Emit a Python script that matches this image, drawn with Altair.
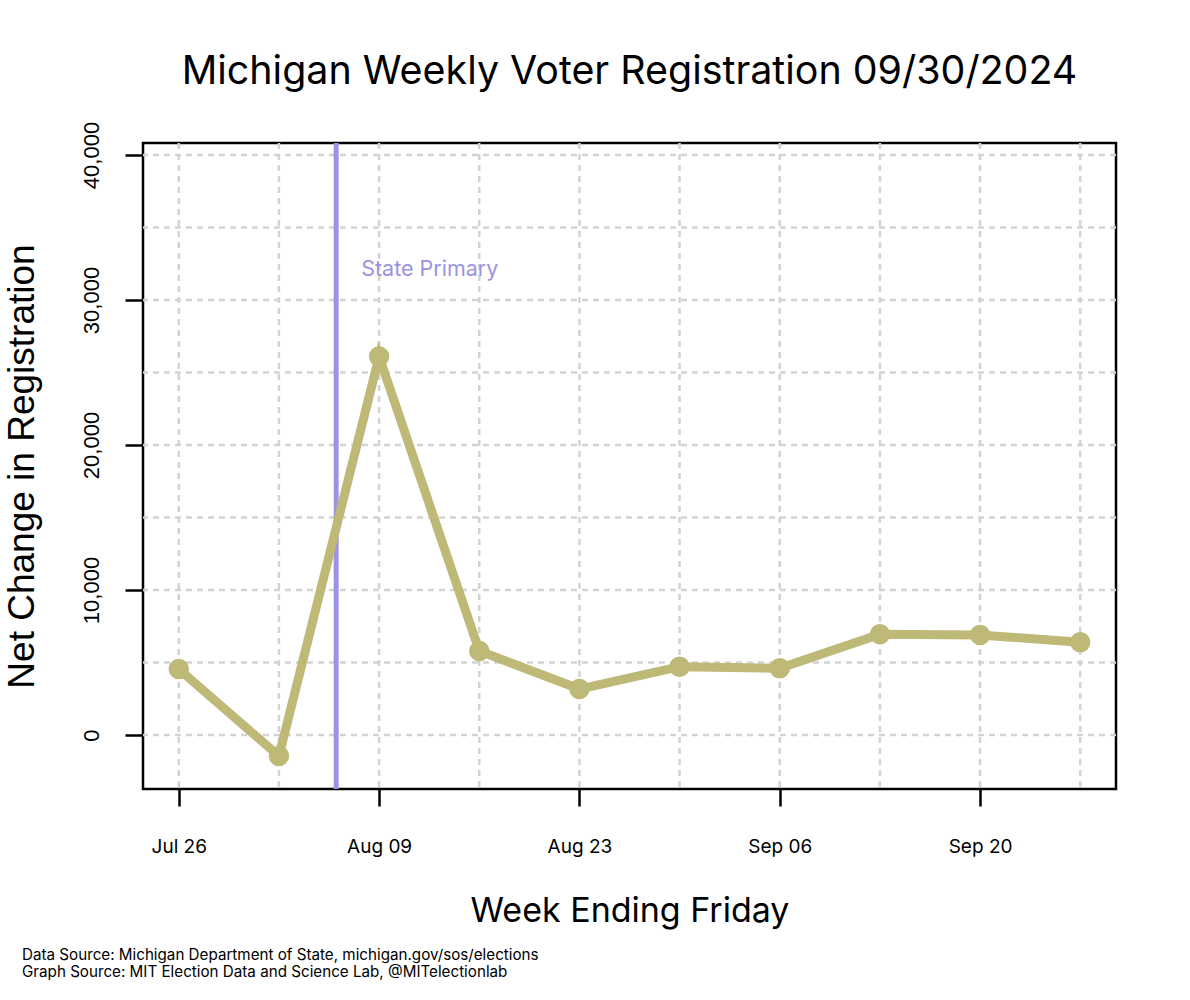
import altair as alt
import pandas as pd

# ---- data ----
weeks = ["2024-07-26", "2024-08-02", "2024-08-09", "2024-08-16", "2024-08-23",
         "2024-08-30", "2024-09-06", "2024-09-13", "2024-09-20", "2024-09-27"]
net_change = [4550, -1450, 26100, 5800, 3170, 4710, 4600, 6950, 6900, 6400]

primary_date = ["2024-08-06"]
primary_label = ["State Primary"]
primary_label_value = [32100]

y_grid_values = [0, 5000, 10000, 15000, 20000, 25000, 30000, 35000, 40000]
y_tick_values = [0, 10000, 20000, 30000, 40000]
x_tick_dates = [(2024, 7, 26), (2024, 8, 9), (2024, 8, 23), (2024, 9, 6), (2024, 9, 20)]

title_text = "Michigan Weekly Voter Registration 09/30/2024"
x_title = "Week Ending Friday"
y_title = "Net Change in Registration"
footnotes = ["Data Source: Michigan Department of State, michigan.gov/sos/elections",
             "Graph Source: MIT Election Data and Science Lab, @MITelectionlab"]

LINE_COLOR = "#bfb978"
PRIMARY_COLOR = "#9b93e3"
GRID_COLOR = "#d3d3d3"
SANS = "Inter"

df = pd.DataFrame({"date": weeks, "value": net_change})
df_xgrid = pd.DataFrame({"date": weeks})
df_ygrid = pd.DataFrame({"value": y_grid_values})
df_primary = pd.DataFrame({"date": primary_date, "value": primary_label_value,
                           "label": primary_label})

x_scale = alt.Scale(type="utc",
                    domain=[alt.DateTime(year=2024, month=7, date=23, hours=12, utc=True),
                            alt.DateTime(year=2024, month=9, date=29, hours=12, utc=True)])
y_scale = alt.Scale(domain=[-3724, 40828], nice=False, zero=False)

x_axis = alt.Axis(
    values=[alt.DateTime(year=y, month=m, date=d, utc=True) for (y, m, d) in x_tick_dates],
    format="%b %d", grid=False, domain=False,
    tickSize=17, tickWidth=2.5, tickColor="black",
    labelFont=SANS, labelFontSize=19, labelColor="black", labelPadding=31,
    labelFlush=False,
    title=x_title, titleFont=SANS, titleFontSize=34, titleFontWeight="normal",
    titleColor="black", titleX=486.5, titleY=122, titleAlign="center",
    titleBaseline="middle",
)
y_axis = alt.Axis(
    values=y_tick_values, format=",.0f", grid=False, domain=False,
    tickSize=18, tickWidth=2.5, tickColor="black",
    labelFont="Liberation Sans", labelFontSize=22, labelColor="black",
    labelAngle=270, labelAlign="center", labelBaseline="bottom", labelPadding=22,
    title=y_title, titleFont="Liberation Sans", titleFontSize=37,
    titleFontWeight="normal", titleColor="black", titleAngle=270,
    titleX=-121, titleY=323, titleAlign="center", titleBaseline="middle",
)

x_enc = alt.X("date:T", scale=x_scale, axis=x_axis)
y_enc = alt.Y("value:Q", scale=y_scale, axis=y_axis)

xgrid = alt.Chart(df_xgrid).mark_rule(
    color=GRID_COLOR, strokeWidth=2.5, strokeDash=[6, 5]).encode(x=x_enc)
ygrid = alt.Chart(df_ygrid).mark_rule(
    color=GRID_COLOR, strokeWidth=2.5, strokeDash=[6, 5]).encode(y=y_enc)

primary_rule = alt.Chart(df_primary).mark_rule(
    color=PRIMARY_COLOR, strokeWidth=5).encode(x=x_enc)

line = alt.Chart(df).mark_line(color=LINE_COLOR, strokeWidth=9).encode(x=x_enc, y=y_enc)
points = alt.Chart(df).mark_circle(color=LINE_COLOR, opacity=1, size=420).encode(
    x=x_enc, y=y_enc)

primary_text = alt.Chart(df_primary).mark_text(
    color=PRIMARY_COLOR, font=SANS, fontSize=21.5, align="left", baseline="middle",
    dx=25).encode(x=x_enc, y=y_enc, text="label:N")

foot1 = alt.Chart(df.head(1)).mark_text(
    text=footnotes[0], font=SANS, fontSize=15.2, color="black",
    align="left", baseline="middle").encode(x=alt.value(-121), y=alt.value(812))
foot2 = alt.Chart(df.head(1)).mark_text(
    text=footnotes[1], font=SANS, fontSize=15.2, color="black",
    align="left", baseline="middle").encode(x=alt.value(-121), y=alt.value(829))

chart = alt.layer(
    ygrid, xgrid, primary_rule, line, points, primary_text, foot1, foot2
).properties(
    width=973, height=646,
    title=alt.TitleParams(title_text, font=SANS, fontSize=39.4, fontWeight="normal",
                          color="black", anchor="middle", frame="group", offset=29),
    autosize=alt.AutoSizeParams(type="none"),
    padding={"left": 143, "top": 143, "right": 74, "bottom": 211},
).configure(
    background="white",
    view=alt.ViewConfig(stroke="black", strokeWidth=2.5),
)

chart.save("out.html", embed_options={"renderer": "svg", "actions": False})
